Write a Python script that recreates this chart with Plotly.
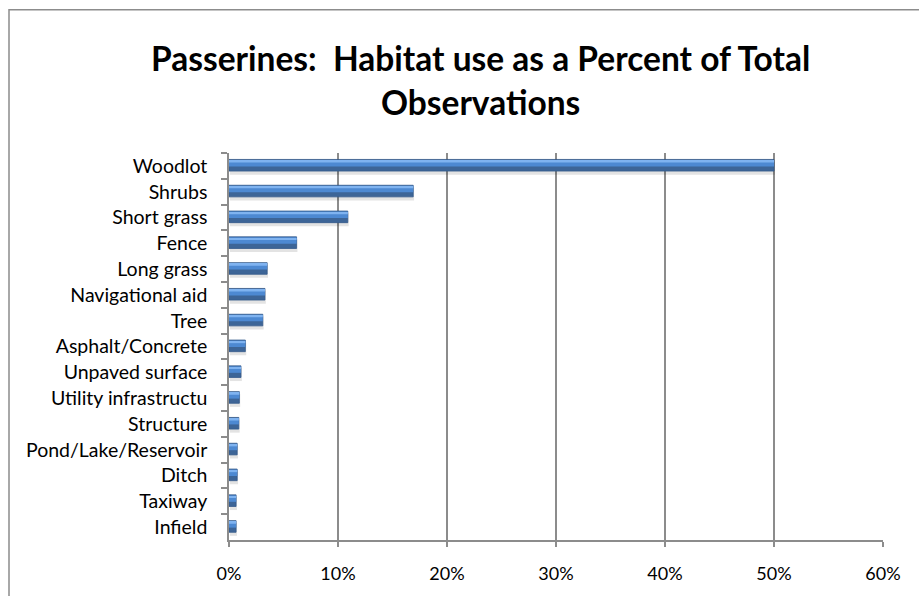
import plotly.graph_objects as go

# Habitat categories, top to bottom
habitats = [
    "Woodlot", "Shrubs", "Short grass", "Fence", "Long grass",
    "Navigational aid", "Tree", "Asphalt/Concrete", "Unpaved surface",
    "Utility infrastructu", "Structure", "Pond/Lake/Reservoir", "Ditch",
    "Taxiway", "Infield",
]
# Share of all passerine observations (fraction)
share = [
    0.500, 0.169, 0.109, 0.062, 0.035,
    0.033, 0.031, 0.015, 0.011,
    0.0095, 0.009, 0.0075, 0.0075,
    0.0065, 0.0065,
]
x_ticks = [0, 0.1, 0.2, 0.3, 0.4, 0.5, 0.6]
x_tick_text = ["0%", "10%", "20%", "30%", "40%", "50%", "60%"]

W, H = 919, 596
L, R, T, B = 229, 36, 153, 51
pw, ph = W - L - R, H - T - B
FONT = "Lato, Open Sans, sans-serif"

fig = go.Figure()

# soft drop shadow under each bar
fig.add_trace(go.Bar(
    x=share, y=habitats, orientation="h", base=0.0008,
    width=0.5, offset=-0.16,
    marker=dict(color="rgba(0,0,0,0.11)", line=dict(width=0)),
    hoverinfo="skip", showlegend=False,
))
# main bar body (darker lower part)
fig.add_trace(go.Bar(
    x=share, y=habitats, orientation="h",
    width=0.45, offset=-0.25,
    marker=dict(color="#3d6597", line=dict(color="#34598a", width=0.8)),
    showlegend=False,
))
# brighter upper half for a rounded look
fig.add_trace(go.Bar(
    x=share, y=habitats, orientation="h",
    width=0.25, offset=-0.23,
    marker=dict(color="#4d89d2", line=dict(width=0)),
    hoverinfo="skip", showlegend=False,
))
# highlight streak
fig.add_trace(go.Bar(
    x=share, y=habitats, orientation="h",
    width=0.07, offset=-0.2,
    marker=dict(color="#7fb3f0", line=dict(width=0)),
    hoverinfo="skip", showlegend=False,
))

fig.update_layout(
    width=W, height=H,
    margin=dict(l=L, r=R, t=T, b=B, pad=0),
    paper_bgcolor="white", plot_bgcolor="white",
    barmode="overlay",
    font=dict(family=FONT, size=18, color="black"),
    xaxis=dict(
        range=[0, 0.6], tickvals=x_ticks, ticktext=x_tick_text,
        showgrid=True, gridcolor="#8c8c8c", gridwidth=1.5,
        showline=True, linecolor="#8c8c8c", linewidth=1.5,
        ticks="outside", ticklen=5, tickcolor="#8c8c8c", tickwidth=1.5,
        ticklabelstandoff=12, zeroline=False, fixedrange=True,
        tickfont=dict(size=18),
    ),
    yaxis=dict(
        autorange="reversed", type="category",
        showgrid=False, showline=True, linecolor="#8c8c8c", linewidth=1.5,
        ticks="outside", ticklen=6, tickcolor="#8c8c8c", tickwidth=1.5,
        tickson="boundaries", ticklabelstandoff=16, fixedrange=True,
        tickfont=dict(size=19.5),
    ),
    annotations=[dict(
        text="<b>Passerines:  Habitat use as a Percent of Total<br>Observations</b>",
        xref="paper", yref="paper",
        x=(480 - L) / pw, y=(H - B - 79) / ph,
        xanchor="center", yanchor="middle",
        showarrow=False, align="center",
        font=dict(family=FONT, size=33.5, color="black"),
    )],
    shapes=[dict(
        type="rect", xref="paper", yref="paper",
        x0=(9 - L) / pw, x1=(W + 10 - L) / pw,
        y0=(H - B - (H + 10)) / ph, y1=(H - B - 8) / ph,
        line=dict(color="#8c8c8c", width=1.5), fillcolor="rgba(0,0,0,0)",
        layer="below",
    )],
)

fig.write_html("out.html")
